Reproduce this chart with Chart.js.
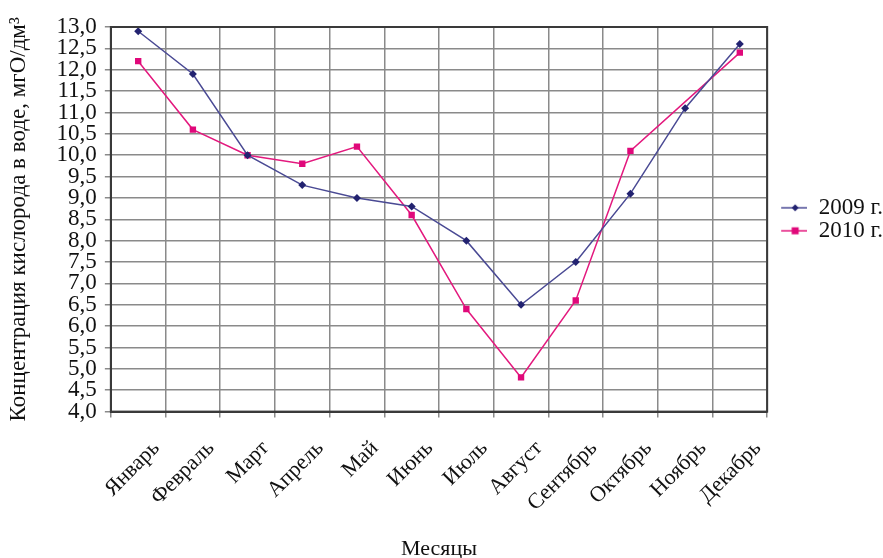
<!DOCTYPE html>
<html>
<head>
<meta charset="utf-8">
<script src="https://cdn.jsdelivr.net/npm/chart.js@4.4.1/dist/chart.umd.min.js"></script>
<style>
  html, body { margin: 0; padding: 0; background: #fff; }
  #wrap { width: 883px; height: 558px; }
</style>
</head>
<body>
<div id="wrap"><canvas id="oxygen-Chart"></canvas></div>
<script>
// месяцы по оси X
const months = ['Январь', 'Февраль', 'Март', 'Апрель', 'Май', 'Июнь',
                'Июль', 'Август', 'Сентябрь', 'Октябрь', 'Ноябрь', 'Декабрь'];
// концентрация кислорода, мгО/дм3
const values2009 = [12.9, 11.9, 10.0, 9.3, 9.0, 8.8, 8.0, 6.5, 7.5, 9.1, 11.1, 12.6];
const values2010 = [12.2, 10.6, 10.0, 9.8, 10.2, 8.6, 6.4, 4.8, 6.6, 10.1, null, 12.4];
const seriesNames = ['2009 г.', '2010 г.'];
const yMin = 4.0;
const yMax = 13.0;
const yStep = 0.5;

const FONT = "'Liberation Serif', 'Times New Roman', serif";
const color2009 = '#4a4a94';
const marker2009 = '#222270';
const color2010 = '#e3197e';
const marker2010 = '#e0087a';

// значок легенды: линия с маркером посередине (слева пустой отступ)
function legendIcon(lineColor, markColor, shape) {
    const c = document.createElement('canvas');
    c.width = 40; c.height = 12;
    const g = c.getContext('2d');
    g.strokeStyle = lineColor;
    g.lineWidth = 1.5;
    g.beginPath(); g.moveTo(14, 6); g.lineTo(42, 6); g.stroke();
    g.fillStyle = markColor;
    if (shape === 'diamond') {
        g.beginPath(); g.moveTo(28, 2.5); g.lineTo(31.5, 6); g.lineTo(28, 9.5); g.lineTo(24.5, 6); g.closePath(); g.fill();
    } else {
        g.fillRect(24.5, 2.5, 7, 7);
    }
    return c;
}
const icons = [legendIcon(color2009, marker2009, 'diamond'), legendIcon(color2010, marker2010, 'square')];

const ctx = document.getElementById('oxygen-Chart').getContext('2d');
new Chart(ctx, {
    type: 'line',
    data: {
        labels: months,
        datasets: [{
            label: seriesNames[0],
            data: values2009,
            borderColor: color2009,
            backgroundColor: marker2009,
            borderWidth: 1.5,
            pointStyle: 'rectRot',
            pointRadius: 4,
            pointBorderWidth: 0,
            pointBackgroundColor: marker2009,
            tension: 0
        }, {
            label: seriesNames[1],
            data: values2010,
            borderColor: color2010,
            backgroundColor: marker2010,
            borderWidth: 1.5,
            pointStyle: 'rect',
            pointRadius: 4.5,
            pointBorderWidth: 0,
            pointBackgroundColor: marker2010,
            spanGaps: true,
            tension: 0
        }]
    },
    options: {
        responsive: true,
        maintainAspectRatio: false,
        animation: false,
        layout: { padding: { top: 27, left: 5, right: -10, bottom: 0 } },
        plugins: {
            tooltip: { enabled: false },
            legend: {
                display: true,
                position: 'right',
                fullSize: false,
                labels: {
                    usePointStyle: true,
                    pointStyleWidth: 40,
                    boxHeight: 12,
                    padding: 0,
                    color: '#111',
                    font: { family: FONT, size: 23, lineHeight: 1 },
                    generateLabels: function (chart) {
                        const items = Chart.defaults.plugins.legend.labels.generateLabels(chart);
                        return items.map((item, i) => ({ ...item, pointStyle: icons[i] }));
                    }
                }
            }
        },
        scales: {
            x: {
                offset: true,
                grid: {
                    offset: true,
                    color: '#8a8a8a',
                    lineWidth: 1.5,
                    tickLength: 6
                },
                border: { color: '#3a3a3a', width: 2 },
                ticks: {
                    minRotation: 45,
                    maxRotation: 45,
                    autoSkip: false,
                    labelOffset: 18,
                    color: '#111',
                    padding: 18,
                    font: { family: FONT, size: 22 }
                },
                title: {
                    display: true,
                    text: 'Месяцы',
                    color: '#111',
                    padding: { top: 1, bottom: -4 },
                    font: { family: FONT, size: 22 }
                }
            },
            y: {
                min: yMin,
                max: yMax,
                grid: {
                    color: '#8a8a8a',
                    lineWidth: 1.5,
                    tickLength: 6
                },
                border: { color: '#3a3a3a', width: 2 },
                ticks: {
                    stepSize: yStep,
                    autoSkip: false,
                    color: '#111',
                    padding: 8,
                    font: { family: FONT, size: 23, lineHeight: 0.9 },
                    callback: v => v.toFixed(1).replace('.', ',')
                },
                title: {
                    display: true,
                    text: 'Концентрация кислорода в воде, мгО/дм³',
                    color: '#111',
                    padding: { top: 0, bottom: 16 },
                    font: { family: FONT, size: 23 }
                }
            }
        }
    },
    plugins: [{
        // рамка вокруг области графика
        id: 'frame',
        afterDraw(chart) {
            const a = chart.chartArea;
            const c = chart.ctx;
            c.save();
            c.strokeStyle = '#3a3a3a';
            c.lineWidth = 2;
            c.strokeRect(a.left, a.top, a.right - a.left, a.bottom - a.top);
            c.restore();
        }
    }]
});
</script>
</body>
</html>
